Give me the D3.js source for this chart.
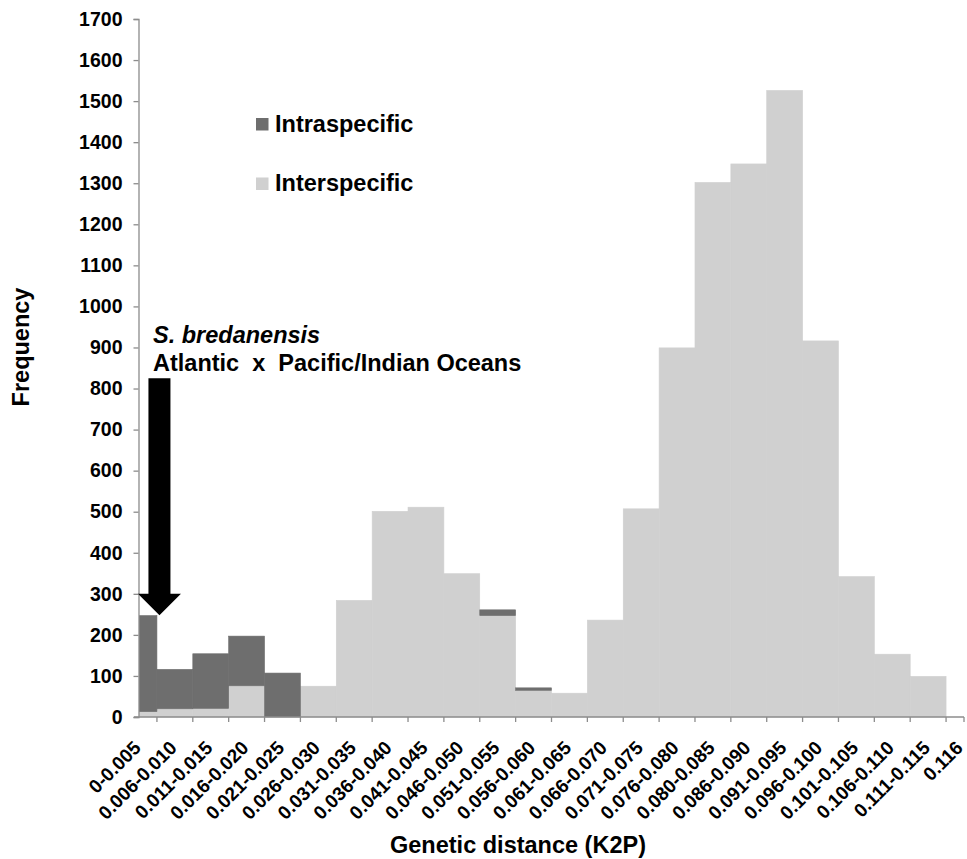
<!DOCTYPE html>
<html>
<head>
<meta charset="utf-8">
<script src="https://cdn.jsdelivr.net/npm/d3@7"></script>
<style>
  body { margin: 0; background: #fff; }
  svg { font-family: "Liberation Sans", Arial, sans-serif; font-weight: bold; }
</style>
</head>
<body>
<div class="chart"></div>
<script>
/* distance classes on the x axis */
const categories = ["0-0.005", "0.006-0.010", "0.011-0.015", "0.016-0.020", "0.021-0.025",
  "0.026-0.030", "0.031-0.035", "0.036-0.040", "0.041-0.045", "0.046-0.050", "0.051-0.055",
  "0.056-0.060", "0.061-0.065", "0.066-0.070", "0.071-0.075", "0.076-0.080", "0.080-0.085",
  "0.086-0.090", "0.091-0.095", "0.096-0.100", "0.101-0.105", "0.106-0.110", "0.111-0.115", "0.116"];

/* interspecific comparisons (bottom of the stack) */
const interValues = [13, 20, 21, 76, 0, 75, 284, 501, 511, 349, 247, 65, 58, 236, 507,
  899, 1302, 1347, 1526, 916, 342, 153, 99, 0];

/* intraspecific comparisons (stacked on top) */
const intraValues = [234, 96, 133, 121, 107, 0, 0, 0, 0, 0, 14, 6, 0, 0, 0,
  0, 0, 0, 0, 0, 0, 0, 0, 0];

/* y tick labels */
const yTicks = [0, 100, 200, 300, 400, 500, 600, 700, 800, 900, 1000, 1100, 1200,
  1300, 1400, 1500, 1600, 1700];

/* arrow annotation: from this frequency down to the first bar */
const arrowTop = 825;
const arrowHeadBase = 300;
const arrowTip = 248;

const colors = { inter: "#d0d0d0", intra: "#6e6e6e" };

function createChart() {
  const width = 967;
  const height = 859;

  const svg = d3.select(".chart")
    .append("svg")
    .attr("width", width)
    .attr("height", height);

  /* scales */
  const xScale = d3.scalePoint()
    .domain(categories)
    .range([139, 964]);
  const step = xScale.step();

  const yScale = d3.scaleLinear()
    .domain([0, 1700])
    .range([717, 19]);

  /* build the table and stack it */
  const table = categories.map((c, i) => ({ cat: c, inter: interValues[i], intra: intraValues[i] }));
  const series = d3.stack().keys(["inter", "intra"])(table);

  /* clip bars to the plot area (first class is cut at the axis) */
  svg.append("clipPath")
    .attr("id", "plotClip")
    .append("rect")
    .attr("x", xScale(categories[0]))
    .attr("y", 0)
    .attr("width", xScale(categories[categories.length - 1]) - xScale(categories[0]))
    .attr("height", height);

  const bars = svg.append("g").attr("clip-path", "url(#plotClip)");

  bars.selectAll("g")
    .data(series)
    .enter()
    .append("g")
    .attr("fill", d => colors[d.key])
    .attr("stroke", d => colors[d.key])
    .attr("stroke-width", 0.6)
    .selectAll("rect")
    .data(d => d.filter(p => p[1] > p[0]))
    .enter()
    .append("rect")
    .attr("x", d => xScale(d.data.cat) - step / 2)
    .attr("width", step)
    .attr("y", d => yScale(d[1]))
    .attr("height", d => yScale(d[0]) - yScale(d[1]));

  /* y axis */
  const yAxis = d3.axisLeft(yScale)
    .tickValues(yTicks)
    .tickFormat(d3.format("d"))
    .tickSize(5)
    .tickPadding(11);

  const yG = svg.append("g")
    .attr("transform", `translate(${xScale(categories[0]) - 0.5}, 0)`)
    .call(yAxis);
  yG.select(".domain").attr("stroke", "#8c8c8c").attr("stroke-width", 1.3);
  yG.selectAll(".tick line").attr("stroke", "#8c8c8c").attr("stroke-width", 1.3);
  yG.selectAll(".tick text")
    .attr("fill", "#000")
    .style("font-size", "19.5px")
    .style("font-family", "'Liberation Sans', Arial, sans-serif")
    .style("font-weight", "bold");

  /* x axis: line, ticks at class boundaries, rotated labels */
  const xG = svg.append("g");
  xG.append("line")
    .attr("x1", xScale(categories[0]) - 5)
    .attr("x2", xScale(categories[categories.length - 1]))
    .attr("y1", yScale(0))
    .attr("y2", yScale(0))
    .attr("stroke", "#8c8c8c")
    .attr("stroke-width", 1.3);

  const tickPos = categories.slice(0, -1).map(c => xScale(c) + step / 2)
    .concat([xScale(categories[categories.length - 1])]);

  xG.selectAll(".xtick")
    .data(tickPos)
    .enter()
    .append("line")
    .attr("class", "xtick")
    .attr("x1", d => d)
    .attr("x2", d => d)
    .attr("y1", yScale(0))
    .attr("y2", yScale(0) + 5)
    .attr("stroke", "#8c8c8c")
    .attr("stroke-width", 1.3);

  xG.selectAll(".xlabel")
    .data(categories)
    .enter()
    .append("text")
    .attr("class", "xlabel")
    .attr("transform", d => `translate(${Math.min(xScale(d) + 3, width - 3)}, ${yScale(0) + 32}) rotate(-45)`)
    .attr("text-anchor", "end")
    .style("font-size", "19px")
    .text(d => d);

  /* axis titles */
  svg.append("text")
    .attr("x", 518)
    .attr("y", 853)
    .attr("text-anchor", "middle")
    .style("font-size", "23.5px")
    .text("Genetic distance (K2P)");

  svg.append("text")
    .attr("transform", "translate(28.5, 347) rotate(-90)")
    .attr("text-anchor", "middle")
    .style("font-size", "23.5px")
    .text("Frequency");

  /* legend */
  const legendItems = [
    { key: "intra", label: "Intraspecific" },
    { key: "inter", label: "Interspecific" }
  ];
  const legend = svg.append("g").attr("transform", "translate(256, 118)");
  legend.selectAll("rect")
    .data(legendItems)
    .enter()
    .append("rect")
    .attr("x", 0)
    .attr("y", (_, i) => i * 59.5)
    .attr("width", 12.5)
    .attr("height", 12.5)
    .attr("fill", d => colors[d.key]);
  legend.selectAll("text")
    .data(legendItems)
    .enter()
    .append("text")
    .attr("x", 19)
    .attr("y", (_, i) => 14 + i * 59)
    .style("font-size", "23.5px")
    .text(d => d.label);

  /* annotation arrow pointing at the first class */
  const ax = xScale(categories[0]) + step * 0.57;
  const arrow = [
    [ax - 11, yScale(arrowTop)],
    [ax + 11, yScale(arrowTop)],
    [ax + 11, yScale(arrowHeadBase)],
    [ax + 21.5, yScale(arrowHeadBase)],
    [ax, yScale(arrowTip)],
    [ax - 21.5, yScale(arrowHeadBase)],
    [ax - 11, yScale(arrowHeadBase)]
  ];
  svg.append("path")
    .attr("d", d3.line()(arrow) + "Z")
    .attr("fill", "#000");

  const note = svg.append("text")
    .attr("x", 153)
    .attr("y", 342.5)
    .style("font-size", "23.5px");
  note.append("tspan")
    .style("font-style", "italic")
    .text("S. bredanensis");
  note.append("tspan")
    .attr("x", 153)
    .attr("y", 370.5)
    .attr("xml:space", "preserve")
    .style("white-space", "pre")
    .text("Atlantic  x  Pacific/Indian Oceans");
}

createChart();
</script>
</body>
</html>
